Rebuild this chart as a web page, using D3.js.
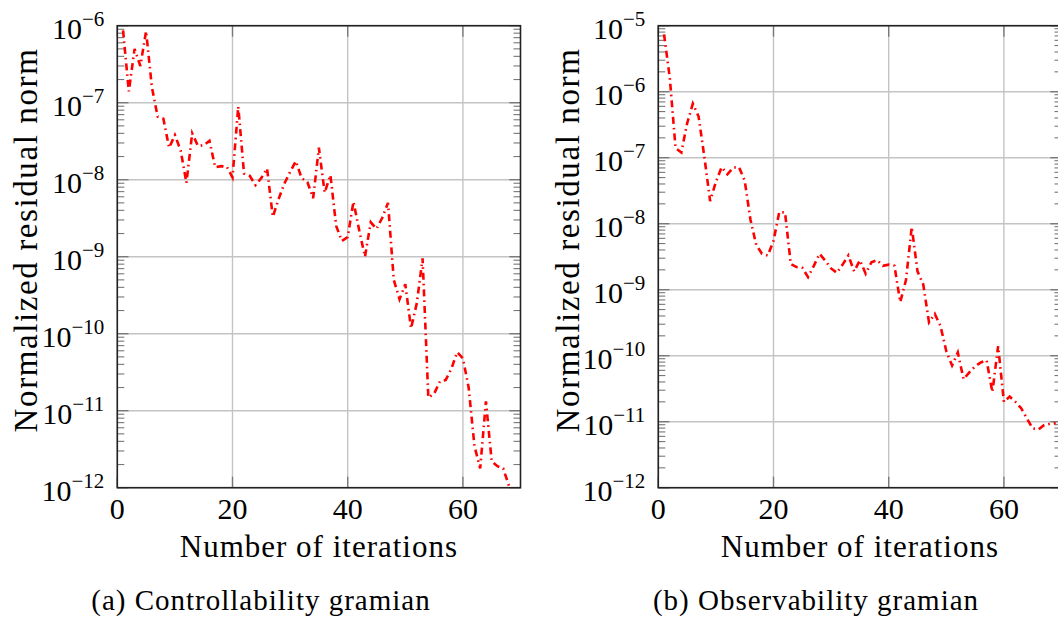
<!doctype html>
<html>
  <head>
    <script src="https://cdnjs.cloudflare.com/ajax/libs/d3/7.8.5/d3.min.js"></script>
    <style>
      body { margin: 0; background: #fff; }
    </style>
  </head>
  <body>
    <svg id="chart" width="1058" height="617" font-family="'Liberation Serif', 'Times New Roman', serif"></svg>
    <script>
      // residual norm per iteration (iteration = index + 1)
      let controllability = [8.7e-7, 1.4e-7, 5.0e-7, 3.0e-7, 8.5e-7, 1.6e-7, 6.6e-8, 6.2e-8, 2.6e-8, 3.8e-8,
        2.4e-8, 9.1e-9, 4.0e-8, 2.75e-8, 2.8e-8, 3.2e-8, 1.45e-8, 1.5e-8, 1.48e-8, 1.07e-8,
        8.9e-8, 1.2e-8, 1.12e-8, 8.5e-9, 1.05e-8, 1.4e-8, 3.3e-9, 5.6e-9, 8.9e-9, 1.26e-8,
        1.74e-8, 1.05e-8, 9.3e-9, 5.75e-9, 2.6e-8, 6.8e-9, 1.15e-8, 2.5e-9, 1.6e-9, 1.8e-9,
        5.2e-9, 2.2e-9, 1.0e-9, 2.8e-9, 2.3e-9, 3.2e-9, 5.0e-9, 5.0e-10, 2.8e-10, 4.4e-10,
        1.17e-10, 2.5e-10, 9.5e-10, 1.48e-11, 1.66e-11, 2.4e-11, 2.5e-11, 3.5e-11, 5.75e-11, 4.8e-11,
        2.0e-11, 3.5e-12, 1.78e-12, 1.32e-11, 2.2e-12, 1.9e-12, 1.78e-12, 1.05e-12];

      let observability = [7.4e-6, 1.6e-6, 1.4e-7, 1.2e-7, 3.3e-7, 6.6e-7, 4.2e-7, 1.02e-7, 2.2e-8, 4.3e-8,
        7.2e-8, 5.6e-8, 7.1e-8, 7.2e-8, 4.5e-8, 1.15e-8, 4.8e-9, 3.5e-9, 3.3e-9, 5.5e-9,
        1.5e-8, 1.48e-8, 2.45e-9, 2.2e-9, 2.15e-9, 1.55e-9, 2.3e-9, 3.5e-9, 2.75e-9, 2.1e-9,
        1.8e-9, 2.4e-9, 3.3e-9, 1.9e-9, 2.8e-9, 1.75e-9, 2.6e-9, 2.8e-9, 2.3e-9, 2.4e-9,
        2.3e-9, 6.5e-10, 1.4e-9, 8.9e-9, 1.9e-9, 1.2e-9, 3.2e-10, 4.3e-10, 2.8e-10, 1.17e-10,
        7.1e-11, 1.12e-10, 4.4e-11, 5.6e-11, 6.9e-11, 7.9e-11, 8.5e-11, 2.8e-11, 1.4e-10, 2.0e-11,
        2.4e-11, 2.0e-11, 1.6e-11, 1.12e-11, 7.9e-12, 7.6e-12, 8.9e-12, 9.3e-12, 9.5e-12];

      let xTicks = [0, 20, 40, 60];
      let leftExponents = [-12, -11, -10, -9, -8, -7, -6];
      let rightExponents = [-12, -11, -10, -9, -8, -7, -6, -5];

      let yTitle = "Normalized residual norm";
      let xTitle = "Number of iterations";

      var svg = d3.select("#chart");

      function drawPanel(id, values, exps, left, labelX, caption) {
        var top = 25.7, bottom = 487.7;
        var x = d3.scaleLinear().domain([0, 70]).range([left, left + 403.2]);
        var y = d3.scaleLog().domain([Math.pow(10, exps[0]), Math.pow(10, exps[exps.length - 1])]).range([bottom, top]);
        var x0 = x.range()[0], x1 = x.range()[1];
        var g = svg.append("g");

        g.append("clipPath").attr("id", id)
          .append("rect").attr("x", x0).attr("y", top).attr("width", x1 - x0).attr("height", bottom - top);

        // grid
        g.selectAll(".gx").data(xTicks).enter().append("line")
          .attr("x1", d => x(d)).attr("x2", d => x(d)).attr("y1", top).attr("y2", bottom)
          .attr("stroke", "#c4c4c4").attr("stroke-width", 1.4);
        g.selectAll(".gy").data(exps).enter().append("line")
          .attr("x1", x0).attr("x2", x1)
          .attr("y1", d => y(Math.pow(10, d))).attr("y2", d => y(Math.pow(10, d)))
          .attr("stroke", "#c4c4c4").attr("stroke-width", 1.4);

        // minor ticks on both sides
        var minors = [];
        exps.slice(0, -1).forEach(e => { for (var k = 2; k <= 9; k++) minors.push(k * Math.pow(10, e)); });
        [[x0, 7], [x1, -7]].forEach(s => {
          g.selectAll(null).data(minors).enter().append("line")
            .attr("x1", s[0]).attr("x2", s[0] + s[1])
            .attr("y1", d => y(d)).attr("y2", d => y(d))
            .attr("stroke", "#777").attr("stroke-width", 1.1);
          g.selectAll(null).data(exps).enter().append("line")
            .attr("x1", s[0]).attr("x2", s[0] + s[1] * 1.6)
            .attr("y1", d => y(Math.pow(10, d))).attr("y2", d => y(Math.pow(10, d)))
            .attr("stroke", "#777").attr("stroke-width", 1.3);
        });
        [[top, 11], [bottom, -11]].forEach(s => {
          g.selectAll(null).data(xTicks).enter().append("line")
            .attr("x1", d => x(d)).attr("x2", d => x(d))
            .attr("y1", s[0]).attr("y2", s[0] + s[1])
            .attr("stroke", "#777").attr("stroke-width", 1.3);
        });

        // data line
        var line = d3.line().x((d, i) => x(i + 1)).y(d => y(d));
        g.append("path").datum(values)
          .attr("d", line)
          .attr("clip-path", "url(#" + id + ")")
          .attr("fill", "none")
          .attr("stroke", "#ff0000")
          .attr("stroke-width", 2.6)
          .attr("stroke-dasharray", "7,4,1.6,4");

        // frame
        g.append("rect").attr("x", x0).attr("y", top).attr("width", x1 - x0).attr("height", bottom - top)
          .attr("fill", "none").attr("stroke", "#222").attr("stroke-width", 1.6);

        // y tick labels
        var yl = g.selectAll(".yl").data(exps).enter().append("text")
          .attr("x", x0 - 13).attr("y", d => y(Math.pow(10, d)) + 13)
          .attr("text-anchor", "end").attr("font-size", 30);
        yl.append("tspan").text("10");
        yl.append("tspan").attr("dy", -13).attr("font-size", 21).text(d => "\u2212" + (-d));

        // x tick labels
        g.selectAll(".xl").data(xTicks).enter().append("text")
          .attr("x", d => x(d)).attr("y", 519)
          .attr("text-anchor", "middle").attr("font-size", 30)
          .text(d => d);

        g.append("text").attr("x", (x0 + x1) / 2).attr("y", 557)
          .attr("text-anchor", "middle").attr("font-size", 31).attr("letter-spacing", 1)
          .text(xTitle);

        g.append("text").attr("transform", "translate(" + labelX + ",240) rotate(-90)")
          .attr("text-anchor", "middle").attr("font-size", 33).attr("letter-spacing", 1.6)
          .text(yTitle);

        g.append("text").attr("x", caption[1]).attr("y", 610)
          .attr("text-anchor", "middle").attr("font-size", 29).attr("letter-spacing", 1)
          .text(caption[0]);
      }

      drawPanel("clipA", controllability, leftExponents, 117.3, 37, ["(a) Controllability gramian", 261]);
      drawPanel("clipB", observability, rightExponents, 658.3, 579, ["(b) Observability gramian", 816]);
    </script>
  </body>
</html>
